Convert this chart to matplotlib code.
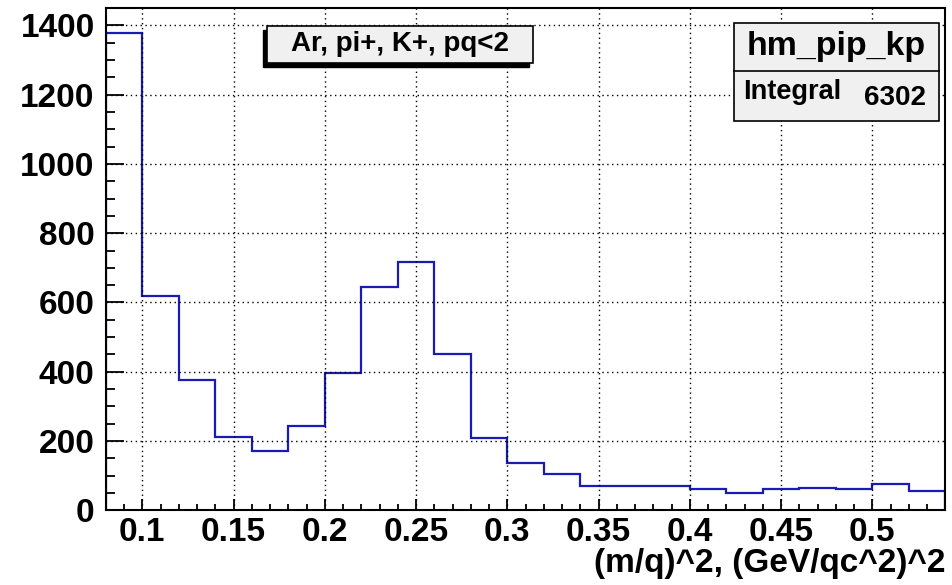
import matplotlib.pyplot as plt
import numpy as np
from matplotlib.patches import Rectangle

plt.rcParams['font.family'] = ['Liberation Sans', 'DejaVu Sans']
plt.rcParams['font.weight'] = 'bold'

# histogram: 23 bins of 0.02 between 0.08 and 0.54
bin_edges = np.round(np.arange(0.08, 0.54 + 0.001, 0.02), 2)
counts = [1378, 620, 375, 210, 170, 242, 397, 646, 718, 452, 209, 137, 104,
          71, 71, 71, 61, 49, 61, 65, 61, 76, 54]
hist_name = 'hm_pip_kp'
title = 'Ar, pi+, K+, pq<2'
integral = 6302
x_label = '(m/q)^2, (GeV/qc^2)^2'

fig = plt.figure(figsize=(9.53, 5.85), dpi=100)
ax = fig.add_axes([0.111, 0.128, 0.881, 0.858])

ax.stairs(counts, bin_edges, color='#1a1ab4', linewidth=1.6)

ax.set_xlim(0.08, 0.54)
ax.set_ylim(0, 1450)
ax.set_xticks(np.arange(0.1, 0.51, 0.05))
ax.set_xticklabels(['0.1', '0.15', '0.2', '0.25', '0.3', '0.35', '0.4', '0.45', '0.5'])
ax.set_xticks(np.arange(0.08, 0.541, 0.01), minor=True)
ax.set_yticks(np.arange(0, 1401, 200))
ax.set_yticks(np.arange(0, 1451, 50), minor=True)

ax.tick_params(which='both', direction='in', labelsize=24, width=1.3, color='black')
ax.tick_params(axis='y', which='major', length=13, pad=8)
ax.tick_params(axis='y', which='minor', length=6.5)
ax.tick_params(axis='x', which='major', length=8, pad=5)
ax.tick_params(axis='x', which='minor', length=4)
for lab in ax.get_xticklabels() + ax.get_yticklabels():
    lab.set_fontweight('bold')

ax.grid(True, which='major', color='black', linestyle=(0, (1, 2.5)), linewidth=1)
for s in ax.spines.values():
    s.set_linewidth(1.5)

ax.set_xlabel(x_label, fontsize=24, fontweight='bold', loc='right', labelpad=0)

# title box with shadow
tx0, ty0, tw, th = 0.280, 0.893, 0.279, 0.063
fig.patches.append(Rectangle((tx0 - 0.004, ty0 - 0.007), tw, th, transform=fig.transFigure,
                             facecolor='black', edgecolor='black', zorder=5))
fig.patches.append(Rectangle((tx0, ty0), tw, th, transform=fig.transFigure,
                             facecolor='#f0f0f0', edgecolor='black', linewidth=1.2, zorder=6))
fig.text(tx0 + tw / 2, ty0 + th / 2, title, ha='center', va='center',
         fontsize=20, fontweight='bold', zorder=7)

# stats box
sx0, sx1 = 734 / 953, 939 / 953
sy_top, sy_mid, sy_bot = 1 - 23 / 585, 1 - 71 / 585, 1 - 121 / 585
fig.patches.append(Rectangle((sx0, sy_bot), sx1 - sx0, sy_top - sy_bot, transform=fig.transFigure,
                             facecolor='#f0f0f0', edgecolor='black', linewidth=1.2, zorder=6))
fig.lines.append(plt.Line2D([sx0, sx1], [sy_mid, sy_mid], transform=fig.transFigure,
                            color='black', linewidth=1.2, zorder=7))
fig.text((sx0 + sx1) / 2, (sy_top + sy_mid) / 2, hist_name, ha='center', va='center',
         fontsize=24.5, fontweight='bold', zorder=7)
fig.text(sx0 + 0.01, (sy_mid + sy_bot) / 2 + 0.006, 'Integral', ha='left', va='center',
         fontsize=19.5, fontweight='bold', zorder=7)
fig.text(sx1 - 0.014, (sy_mid + sy_bot) / 2 - 0.004, str(integral), ha='right', va='center',
         fontsize=20, fontweight='bold', zorder=7)

fig.savefig('out.png', dpi=100)
